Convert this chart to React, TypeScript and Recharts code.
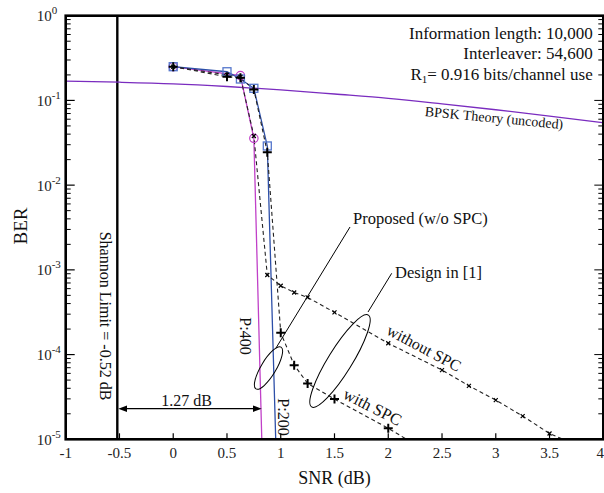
import { LineChart, Line, XAxis, YAxis, ReferenceLine } from 'recharts';

// ---- data ----
const xTicks = [-1, -0.5, 0, 0.5, 1, 1.5, 2, 2.5, 3, 3.5, 4];

const bpskSnr = [-1, -0.5, 0, 0.5, 1, 1.5, 2, 2.5, 3, 3.5, 4];
const bpskBer = [0.169, 0.164, 0.157, 0.146, 0.133, 0.119, 0.106, 0.0912, 0.0776, 0.0653, 0.0546];

// proposed, P:400 (magenta circles)
const p400Snr = [0, 0.625, 0.75, 0.83];
const p400Ber = [0.25, 0.196, 0.0357, 5e-6];

// proposed, P:200 (blue squares)
const p200Snr = [0, 0.5, 0.625, 0.75, 0.875, 0.96];
const p200Ber = [0.25, 0.218, 0.179, 0.139, 0.029, 5e-6];

// design in [1], without SPC (x markers)
const noSpcSnr = [0, 0.5, 0.625, 0.75, 0.875, 1, 1.125, 1.25, 1.5, 2, 2.5, 2.75, 3, 3.25, 3.5, 3.75];
const noSpcBer = [0.25, 0.2, 0.19, 0.038, 8.7e-4, 6.5e-4, 5.4e-4, 4.73e-4, 3.15e-4, 1.36e-4, 6.56e-5, 4.28e-5, 2.9e-5, 1.88e-5, 1.17e-5, 8.6e-6];

// design in [1], with SPC (+ markers)
const spcSnr = [0, 0.5, 0.625, 0.75, 0.875, 1, 1.125, 1.25, 1.5, 2, 2.25];
const spcBer = [0.25, 0.19, 0.185, 0.135, 0.0244, 1.81e-4, 7.5e-5, 4.57e-5, 2.98e-5, 1.35e-5, 8.7e-6];

const SHANNON = -0.52;

const zip = (xs: number[], ys: number[]) => xs.map((snr, i) => ({ snr, ber: ys[i] }));

const logTicks: number[] = [];
for (let d = -5; d < 0; d++) {
  for (let k = 1; k <= 9; k++) logTicks.push(Number((k * Math.pow(10, d)).toPrecision(3)));
}
logTicks.push(1);

const FONT = '"Liberation Serif", "Times New Roman", serif';
const MAGENTA = '#c040c8';
const BLUE = '#2d4fa8';
const SQUARE = '#5577cc';
const PURPLE = '#7a2cbf';
const DASHED = '#222';

const isMajor = (v: number) => Math.abs(Math.log10(v) - Math.round(Math.log10(v))) < 1e-6;
const hidden = (p: any) => p.cy == null || p.payload.ber < 1e-5;

function CircleDot(p: any) {
  if (hidden(p)) return <g key={`c${p.index}`} />;
  return <circle key={`c${p.index}`} cx={p.cx} cy={p.cy} r={4.2} fill="none" stroke={MAGENTA} strokeWidth={1.2} />;
}
function SquareDot(p: any) {
  if (hidden(p)) return <g key={`s${p.index}`} />;
  return <rect key={`s${p.index}`} x={p.cx - 4} y={p.cy - 4} width={8} height={8} fill="none" stroke={SQUARE} strokeWidth={1.3} />;
}
function PlusDot(p: any) {
  if (hidden(p)) return <g key={`p${p.index}`} />;
  return (
    <path key={`p${p.index}`} d={`M${p.cx - 4.5},${p.cy}H${p.cx + 4.5}M${p.cx},${p.cy - 4.5}V${p.cy + 4.5}`} stroke="#000" strokeWidth={2} />
  );
}
function CrossDot(p: any) {
  if (hidden(p)) return <g key={`x${p.index}`} />;
  return (
    <path key={`x${p.index}`} d={`M${p.cx - 2},${p.cy - 2}L${p.cx + 2},${p.cy + 2}M${p.cx - 2},${p.cy + 2}L${p.cx + 2},${p.cy - 2}`} stroke="#000" strokeWidth={1.2} />
  );
}

// axis sizes are kept small; margins below make the plot area 65.7..603.3 x 15.7..439.3
function BottomTick({ x, payload }: any) {
  const y = 439.3;
  const last = payload.value === xTicks[xTicks.length - 1];
  return (
    <g>
      <line x1={x} y1={y} x2={x} y2={y - 6} stroke="#000" strokeWidth={1.2} />
      <text x={last ? 604 : x} y={y + 19} textAnchor={last ? 'end' : 'middle'} fontSize={15} fontFamily={FONT} fill="#222">{payload.value}</text>
    </g>
  );
}
function TopTick({ x }: any) {
  const y = 15.7;
  return <line x1={x} y1={y} x2={x} y2={y + 6} stroke="#000" strokeWidth={1.2} />;
}
function LeftTick({ y, payload }: any) {
  const x = 65.7;
  const v = payload.value;
  if (!isMajor(v)) return <line x1={x} y1={y} x2={x + 5} y2={y} stroke="#000" strokeWidth={1} />;
  return (
    <g>
      <line x1={x} y1={y} x2={x + 9} y2={y} stroke="#000" strokeWidth={1.2} />
      <text x={x - 29} y={y + 5.5} fontSize={15} fontFamily={FONT} fill="#222">
        10<tspan dy={-7} fontSize={11}>{Math.round(Math.log10(v))}</tspan>
      </text>
    </g>
  );
}
function RightTick({ y, payload }: any) {
  const x = 603.3;
  const len = isMajor(payload.value) ? 9 : 5;
  return <line x1={x} y1={y} x2={x - len} y2={y} stroke="#000" strokeWidth={1} />;
}

function Annotations() {
  const t = { fontFamily: FONT, fill: '#111' } as const;
  return (
    <svg width={604} height={493} style={{ position: 'absolute', left: 0, top: 0, pointerEvents: 'none' }}>
      {/* frame */}
      <rect x={65.7} y={15.7} width={537.6} height={423.6} fill="none" stroke="#000" strokeWidth={2.6} />

      <text {...t} fontSize={19} textAnchor="middle" dominantBaseline="central" transform="translate(20,226) rotate(-90)">BER</text>
      <text {...t} fontSize={18} textAnchor="middle" x={334.5} y={484}>SNR (dB)</text>

      <text {...t} fontSize={17} textAnchor="end" x={592.7} y={38.5}>Information length: 10,000</text>
      <text {...t} fontSize={17} textAnchor="end" x={592.7} y={59.2}>Interleaver: 54,600</text>
      <text {...t} fontSize={17} textAnchor="end" x={592.7} y={79.8}>
        R<tspan fontSize={11} dy={3}>1</tspan><tspan dy={-3}>= 0.916 bits/channel use</tspan>
      </text>
      <text {...t} fontSize={14} textAnchor="middle" dominantBaseline="central" transform="translate(494,118) rotate(5.4)">BPSK Theory (uncoded)</text>

      <text {...t} fontSize={16} textAnchor="middle" dominantBaseline="central" transform="translate(105,316) rotate(90)">Shannon Limit = -0.52 dB</text>
      <text {...t} fontSize={16} textAnchor="middle" dominantBaseline="central" transform="translate(245,336) rotate(90)">P:400</text>
      <text {...t} fontSize={16} textAnchor="middle" dominantBaseline="central" transform="translate(283.5,417) rotate(90)">P:200</text>

      <text {...t} fontSize={16} textAnchor="middle" x={186.7} y={405.5}>1.27 dB</text>
      <line x1={124} y1={408.7} x2={256} y2={408.7} stroke="#000" strokeWidth={1.2} />
      <path d="M118.3,408.7 L127,405.4 L127,412 Z" fill="#000" />
      <path d="M261.7,408.7 L253,405.4 L253,412 Z" fill="#000" />

      <text {...t} fontSize={16.5} x={353} y={224}>Proposed (w/o SPC)</text>
      <line x1={350} y1={227} x2={276} y2={348} stroke="#000" strokeWidth={1} />
      <ellipse cx={268.5} cy={368} rx={24.4} ry={7.5} transform="rotate(-59 268.5 368)" fill="none" stroke="#000" strokeWidth={1} />

      <text {...t} fontSize={16.5} x={395} y={277.5}>Design in [1]</text>
      <line x1={391.7} y1={273.3} x2={368} y2={312} stroke="#000" strokeWidth={1} />
      <ellipse cx={340} cy={361} rx={54} ry={12} transform="rotate(-58.3 340 361)" fill="none" stroke="#000" strokeWidth={1} />

      <text {...t} fontSize={16} textAnchor="middle" dominantBaseline="central" transform="translate(424,348) rotate(28)">without SPC</text>
      <text {...t} fontSize={16.5} textAnchor="middle" dominantBaseline="central" transform="translate(372.5,407) rotate(27)">with SPC</text>
    </svg>
  );
}

export default function App() {
  return (
    <div style={{ position: 'absolute', left: 0, top: 0, width: 604, height: 493, overflow: 'hidden', background: '#fff' }}>
      <LineChart width={604} height={493} margin={{ top: 14.7, right: 0, bottom: 23.7, left: 25.7 }}>
        <XAxis xAxisId="b" dataKey="snr" type="number" domain={[-1, 4]} ticks={xTicks} interval={0}
          height={30} tickLine={false} tick={<BottomTick />} axisLine={false} allowDataOverflow />
        <XAxis xAxisId="t" orientation="top" dataKey="snr" type="number" domain={[-1, 4]} ticks={xTicks} interval={0}
          height={1} tickLine={false} tick={<TopTick />} axisLine={false} />
        <YAxis yAxisId="l" type="number" scale="log" domain={[1e-5, 1]} ticks={logTicks} interval={0}
          width={40} tickLine={false} tick={<LeftTick />} axisLine={false} allowDataOverflow />
        <YAxis yAxisId="r" orientation="right" type="number" scale="log" domain={[1e-5, 1]} ticks={logTicks} interval={0}
          width={0.7} tickLine={false} tick={<RightTick />} axisLine={false} allowDataOverflow />

        <ReferenceLine xAxisId="b" yAxisId="l" x={SHANNON} stroke="#000" strokeWidth={2.4} />

        <Line xAxisId="b" yAxisId="l" data={zip(bpskSnr, bpskBer)} dataKey="ber" type="monotone"
          stroke={PURPLE} strokeWidth={1.3} dot={false} isAnimationActive={false} />
        <Line xAxisId="b" yAxisId="l" data={zip(p400Snr, p400Ber)} dataKey="ber" type="linear"
          stroke={MAGENTA} strokeWidth={1.3} dot={CircleDot} isAnimationActive={false} />
        <Line xAxisId="b" yAxisId="l" data={zip(p200Snr, p200Ber)} dataKey="ber" type="linear"
          stroke={BLUE} strokeWidth={1.3} dot={SquareDot} isAnimationActive={false} />
        <Line xAxisId="b" yAxisId="l" data={zip(noSpcSnr, noSpcBer)} dataKey="ber" type="linear"
          stroke={DASHED} strokeWidth={1.1} strokeDasharray="4 3" dot={CrossDot} isAnimationActive={false} />
        <Line xAxisId="b" yAxisId="l" data={zip(spcSnr, spcBer)} dataKey="ber" type="linear"
          stroke={DASHED} strokeWidth={1.1} strokeDasharray="4 3" dot={PlusDot} isAnimationActive={false} />
      </LineChart>
      <Annotations />
    </div>
  );
}
